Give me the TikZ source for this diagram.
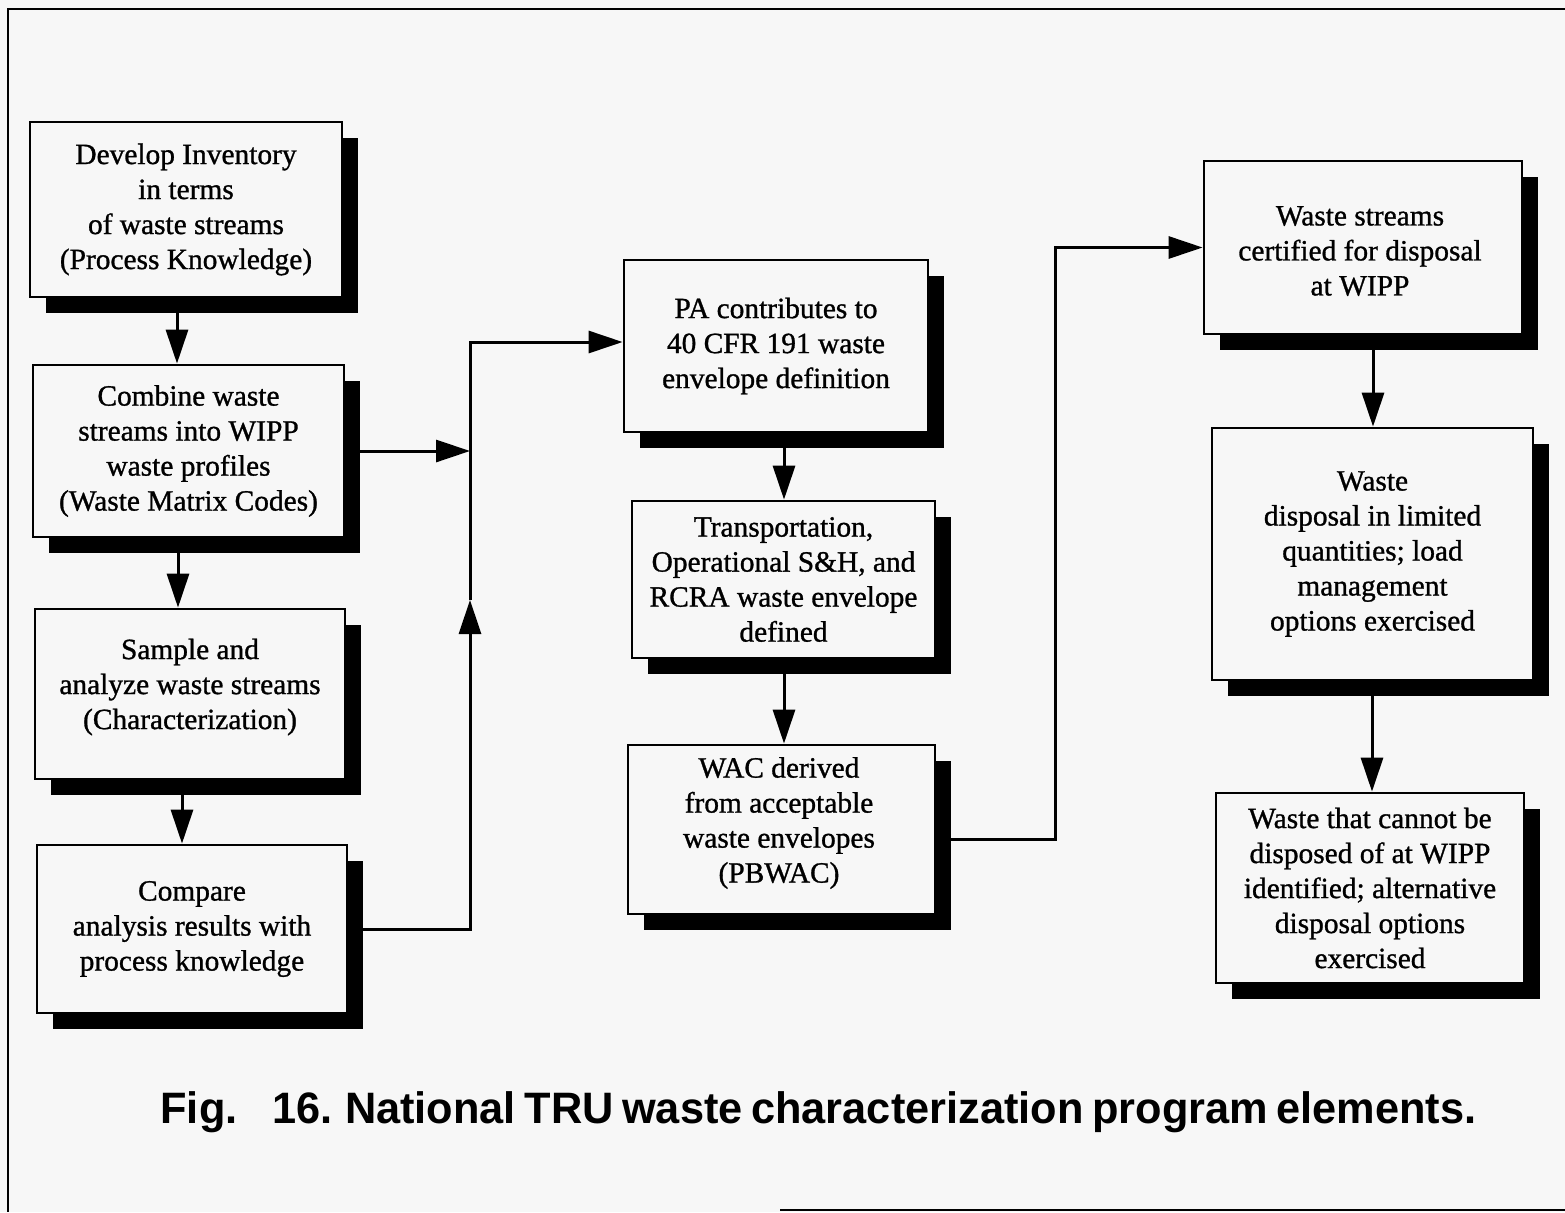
\documentclass[tikz,border=0pt]{standalone}
\usepackage{fontspec}
\usepackage{graphicx}
\setmainfont{Liberation Serif}
\newfontfamily\boxfont{Liberation Serif}[FakeBold=1]
\newfontfamily\capfont{Liberation Sans}
\usetikzlibrary{arrows.meta,shadows,calc}
\definecolor{paper}{HTML}{F7F7F7}
\tikzset{
  boxtext/.style={inner sep=0pt, align=center,
    font=\boxfont\fontsize{14.7pt}{17.5pt}\selectfont},
  box/.style={boxtext, draw=black, fill=paper, line width=1.4pt,
    drop shadow={shadow xshift=8pt, shadow yshift=-8pt, fill=black, opacity=1}},
  arr/.style={line width=1.5pt, -{Triangle[length=17pt,width=11pt]}},
  frame/.style={line width=1pt}
}
\begin{document}
\begin{tikzpicture}[x=0.5pt,y=-0.5pt]
\fill[paper] (0,0) rectangle (1565,1212);
\useasboundingbox (0,0) rectangle (1565,1212);
% frame
\coordinate (f1) at (1565,9);
\coordinate (f2) at (8,9);
\coordinate (f3) at (8,1212);
\coordinate (f4) at (780,1210);
\coordinate (f5) at (1565,1210);
\draw[frame] (f1) -- (f2) -- (f3);
\draw[frame] (f4) -- (f5);

% left column
\node[box, minimum width=156pt, minimum height=87.5pt] (b1) at (186,209.5)
  {Develop Inventory\\in terms\\of waste streams\\(Process Knowledge)};
\node[box, minimum width=155.5pt, minimum height=86pt] (b2) at (188.5,451)
  {Combine waste\\streams into WIPP\\waste profiles\\(Waste Matrix Codes)};
\node[box, minimum width=155pt, minimum height=85pt] (b3) at (190,694) {};
\node[boxtext] (b3t) at (190,687)
  {Sample and\\analyze waste streams\\(Characterization)};
\node[box, minimum width=155pt, minimum height=84pt] (b4) at (192,929)
  {Compare\\analysis results with\\process knowledge};

% middle column
\node[box, minimum width=152pt, minimum height=86pt] (b5) at (776,346)
  {PA contributes to\\40 CFR 191 waste\\envelope definition};
\node[box, minimum width=151.5pt, minimum height=78.5pt] (b6) at (783.5,579.5)
  {Transportation,\\Operational S\&H, and\\RCRA waste envelope\\defined};
\node[box, minimum width=153.5pt, minimum height=84.5pt] (b7) at (781.5,829.5) {};
\node[boxtext] (b7t) at (779,823)
  {WAC derived\\from acceptable\\waste envelopes\\(PBWAC)};

% right column
\node[box, minimum width=159pt, minimum height=86.5pt] (b8) at (1363,247.5) {};
\node[boxtext] (b8t) at (1360,251)
  {Waste streams\\certified for disposal\\at WIPP};
\node[box, minimum width=160.5pt, minimum height=126pt] (b9) at (1372.5,554)
  {Waste\\disposal in limited\\quantities; load\\management\\options exercised};
\node[box, minimum width=154pt, minimum height=95pt] (b10) at (1370,888)
  {Waste that cannot be\\disposed of at WIPP\\identified; alternative\\disposal options\\exercised};

% caption
\node[anchor=base, inner sep=0pt] (cap) at (818.5,1123)
  {\resizebox{658pt}{\height}{\capfont\bfseries\fontsize{22pt}{26pt}\selectfont\spaceskip=0.2em\relax Fig.\hspace{0.8em}16. National TRU waste characterization program elements.}};

% helper coordinates
\coordinate (a1) at (177,0);
\coordinate (a2) at (178,0);
\coordinate (a3) at (182,0);
\coordinate (vx) at (470,0);
\coordinate (jn) at (470,600);
\coordinate (a5) at (784,0);
\coordinate (vx2) at (1055,0);
\coordinate (a8) at (1373,0);
\coordinate (a9) at (1372,0);

% connectors
\draw[arr] (b1.south -| a1) -- (b2.north -| a1);
\draw[arr] (b2.south -| a2) -- (b3.north -| a2);
\draw[arr] (b3.south -| a3) -- (b4.north -| a3);
\draw[arr] (b2.east) -- (b2.east -| vx);
\draw[arr] (b4.east) -| (jn);
\draw[arr] (jn) |- ([yshift=2pt]b5.west);
\draw[arr] (b5.south -| a5) -- (b6.north -| a5);
\draw[arr] (b6.south -| a5) -- (b7.north -| a5);
\draw[arr] ([yshift=-5pt]b7.east) -| (vx2 |- b8.west) -- (b8.west);
\draw[arr] (b8.south -| a8) -- (b9.north -| a8);
\draw[arr] (b9.south -| a9) -- (b10.north -| a9);
\end{tikzpicture}
\end{document}
